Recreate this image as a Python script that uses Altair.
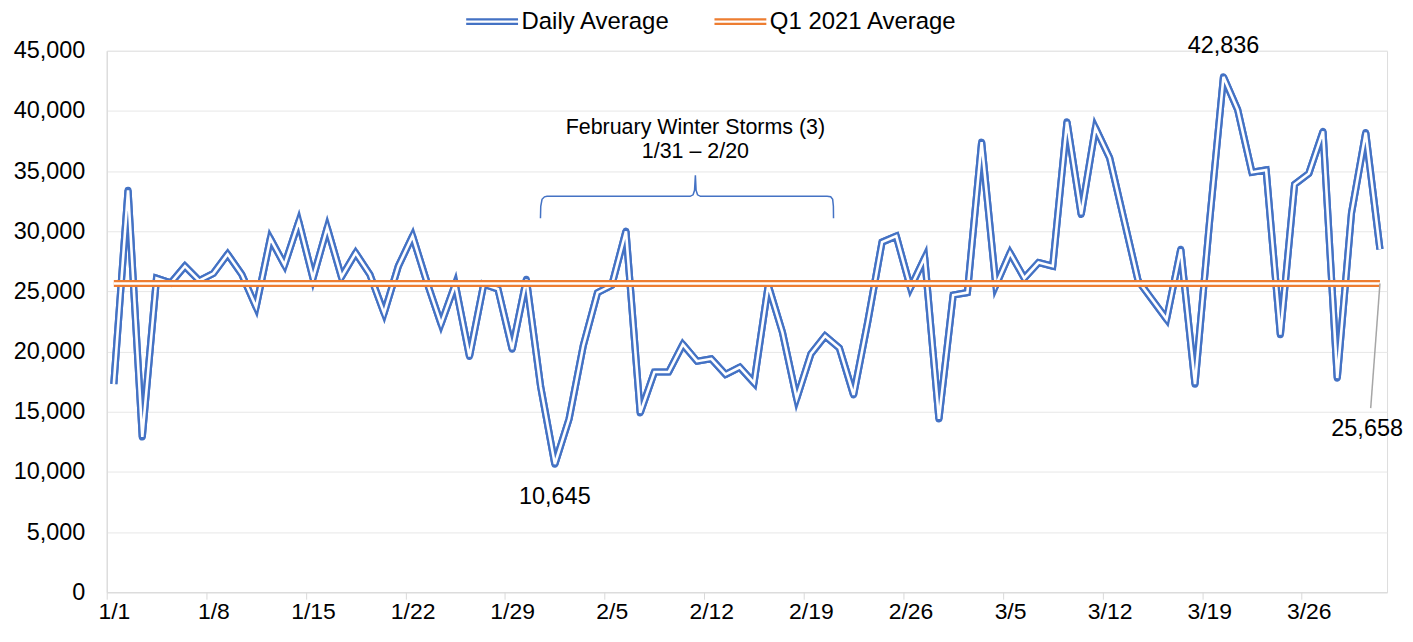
import altair as alt
import pandas as pd

# ---- data ----
daily_avg = [
    17300, 33400, 12900, 26100, 25700, 27100, 25900, 26500, 28100, 26400,
    23700, 29400, 27200, 30800, 26100, 30300, 26200, 28200, 26400, 23200,
    27100, 29600, 25800, 22300, 25600, 19600, 25600, 25200, 20200, 26000,
    17100, 10645, 14400, 20500, 24900, 25500, 30000, 14900, 18300, 18300,
    20600, 19200, 19400, 18100, 18700, 17400, 25500, 21600, 16100, 19800,
    21300, 20300, 16400, 22500, 29100, 29600, 25300, 27800, 14400, 24700,
    24900, 37400, 25500, 28200, 26100, 27400, 27100, 39100, 31400, 38600,
    36100, 31000, 25900, 24300, 22700, 28500, 17300, 30500, 42836, 40100,
    34900, 35100, 21400, 33900, 34800, 38300, 17800, 31500, 38200, 28500,
]
q1_average = 25658
series_names = ["Daily Average", "Q1 2021 Average"]
series_colors = ["#4472C4", "#ED7D31"]
tick_days = [0, 7, 14, 21, 28, 35, 42, 49, 56, 63, 70, 77, 84]
tick_labels = ["1/1", "1/8", "1/15", "1/22", "1/29", "2/5", "2/12",
               "2/19", "2/26", "3/5", "3/12", "3/19", "3/26"]
y_ticks = [0, 5000, 10000, 15000, 20000, 25000, 30000, 35000, 40000, 45000]

# annotation texts (day index, value)
label_text = ["42,836", "10,645", "25,658"]
label_day = [78, 31, 88.1]
label_value = [45420, 7950, 13590]

storm_text = ["February Winter Storms (3)", "1/31 \u2013 2/20"]
storm_day = [40.88, 40.88]
storm_value = [38540, 36550]

brace_day = [29.99, 30.01, 30.10, 30.27, 30.45, 40.51, 40.72, 40.82, 40.88,
             40.93, 41.03, 41.24, 50.14, 50.39, 50.53, 50.58, 50.59]
brace_value = [31080, 32075, 32655, 32862, 32903, 32903, 33027, 33400, 34644,
               33400, 33027, 32903, 32903, 32862, 32655, 32075, 31080]

leader_day = [89, 88.35]
leader_value = [25658, 15300]

FONT = "Liberation Sans"
W, H = 1284, 543

days = list(range(len(daily_avg)))
daily = pd.DataFrame({"day": days, "value": daily_avg, "series": series_names[0]})
avg = pd.DataFrame({"day": days, "value": [q1_average] * len(days), "series": series_names[1]})
labels_df = pd.DataFrame({"day": label_day, "value": label_value, "text": label_text})
storm_df = pd.DataFrame({"day": storm_day, "value": storm_value, "text": storm_text})
brace_df = pd.DataFrame({"day": brace_day, "value": brace_value})
leader_df = pd.DataFrame({"day": leader_day, "value": leader_value})

half_day = W / len(days) / 2
label_expr = "[" + ",".join("'%s'" % t for t in tick_labels) + "][round(datum.value / 7)]"

x_enc = alt.X(
    "day:Q",
    scale=alt.Scale(domain=[-0.5, len(days) - 0.5], nice=False, zero=False),
    axis=alt.Axis(
        values=tick_days, labelExpr=label_expr, title=None, grid=False,
        tickOffset=-half_day, labelOffset=half_day, tickSize=7,
        tickColor="#d9d9d9", domainColor="#d9d9d9", labelFontSize=23,
        labelColor="#000000", labelPadding=1, labelFlush=False,
        labelOverlap=False, labelAngle=0, labelFont=FONT,
    ),
)
y_enc = alt.Y(
    "value:Q",
    scale=alt.Scale(domain=[0, 45000], nice=False, zero=True),
    axis=alt.Axis(
        values=y_ticks, format=",.0f", title=None, grid=True, gridColor="#e7e7e7",
        ticks=False, domainColor="#d9d9d9", labelFontSize=23.5,
        labelColor="#000000", labelPadding=22, labelFont=FONT,
    ),
)

color_enc = alt.Color(
    "series:N",
    scale=alt.Scale(domain=series_names, range=series_colors),
    legend=alt.Legend(
        title=None, orient="none", legendX=359, legendY=-57, direction="horizontal",
        symbolType="M-1,-0.085L1,-0.085M-1,0.085L1,0.085", symbolSize=2704,
        symbolStrokeWidth=2.3, labelFontSize=24, labelFont=FONT, labelLimit=400,
        labelColor="#000000", labelOffset=2, columnPadding=39,
    ),
)

miter = dict(strokeJoin="miter", strokeMiterLimit=4)

# double-line style: thick coloured stroke (round + mitred joins) with a thin white core
blue_round = alt.Chart(daily).mark_line(strokeWidth=7.2, strokeJoin="round").encode(
    x=x_enc, y=y_enc, color=color_enc)
blue_miter = alt.Chart(daily).mark_line(strokeWidth=7.2, **miter).encode(
    x=x_enc, y=y_enc, color=color_enc)
blue_gap = alt.Chart(daily).mark_line(color="white", strokeWidth=2.6, **miter).encode(
    x=x_enc, y=y_enc)
orange = alt.Chart(avg).mark_line(strokeWidth=7.2, **miter).encode(
    x=x_enc, y=y_enc, color=color_enc)
orange_gap = alt.Chart(avg).mark_line(color="white", strokeWidth=2.6, **miter).encode(
    x=x_enc, y=y_enc)

brace = alt.Chart(brace_df).mark_line(color="#4472C4", strokeWidth=1.5).encode(
    x=x_enc, y=y_enc)
leader = alt.Chart(leader_df).mark_line(color="#a6a6a6", strokeWidth=1.5).encode(
    x=x_enc, y=y_enc)

value_labels = alt.Chart(labels_df).mark_text(
    fontSize=23.5, font=FONT, color="#000000", align="center", baseline="middle"
).encode(x=x_enc, y=y_enc, text="text:N")

storm_labels = alt.Chart(storm_df).mark_text(
    fontSize=21.5, font=FONT, color="#000000", align="center", baseline="middle"
).encode(x=x_enc, y=y_enc, text="text:N")

chart = alt.layer(
    blue_round, blue_miter, blue_gap, orange, orange_gap, brace, leader,
    value_labels, storm_labels
).properties(
    width=W, height=H,
    autosize=alt.AutoSizeParams(type="none"),
    padding={"left": 99, "top": 42, "right": 18, "bottom": 41},
).configure_view(strokeWidth=0).configure(font=FONT)

chart.save("out.html", embed_options={"renderer": "svg", "actions": False})
